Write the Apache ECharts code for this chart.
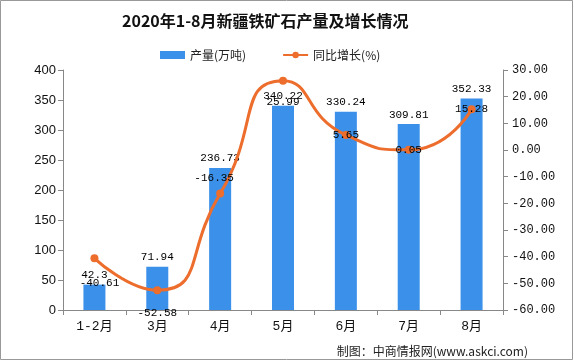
<!DOCTYPE html>
<html><head><meta charset="utf-8">
<script src="https://cdn.jsdelivr.net/npm/echarts@6/dist/echarts.min.js"></script>
<style>html,body{margin:0;padding:0;background:#fff}#c{width:574px;height:361px}</style>
</head><body><div id="c"></div>
<script>
const titleText = '2020年1-8月新疆铁矿石产量及增长情况';
const categories = ['1-2月','3月','4月','5月','6月','7月','8月'];
const output = [42.3, 71.94, 236.73, 340.22, 330.24, 309.81, 352.33];
const growth = [-40.61, -52.58, -16.35, 25.99, 5.65, 0.05, 15.28];
const leftTicks = [0, 400, 50];
const rightTicks = [-60, 30, 10];
const sourceText = '制图：中商情报网(www.askci.com)';

const lineLabelOffsets = [[5,25],[0,23],[-6,-16],[0,21],[0,0],[0,0],[0,0]];
const labelFont = {fontFamily:'Liberation Mono', fontSize:11, color:'#000'};

const chart = echarts.init(document.getElementById('c'));
chart.setOption({
  animation:false,
  title:{text:titleText,left:117,top:8,textStyle:{fontFamily:'Noto Sans CJK SC',fontSize:16,fontWeight:'bold',color:'#111'}},
  legend:{top:44,left:155,itemWidth:25,itemHeight:8,itemGap:36,
    textStyle:{fontFamily:'Noto Sans CJK SC',fontSize:12,color:'#222'},
    data:[{name:'产量(万吨)',icon:'rect'},{name:'同比增长(%)'}]},
  grid:{left:63,right:71,top:70,bottom:51},
  xAxis:{type:'category',data:categories,
    axisLine:{lineStyle:{color:'#888'}},
    axisTick:{show:true,length:5,lineStyle:{color:'#888'}},
    axisLabel:{fontFamily:'Liberation Mono, Noto Sans CJK SC',fontSize:13,color:'#111',margin:10}},
  yAxis:[
    {type:'value',min:leftTicks[0],max:leftTicks[1],interval:leftTicks[2],
     axisLine:{show:true,lineStyle:{color:'#888'}},axisTick:{show:true,length:5,lineStyle:{color:'#888'}},
     splitLine:{show:false},axisLabel:{fontFamily:'Liberation Sans',fontSize:13,color:'#111',margin:7}},
    {type:'value',min:rightTicks[0],max:rightTicks[1],interval:rightTicks[2],
     axisLine:{show:true,lineStyle:{color:'#888'}},axisTick:{show:true,length:5,lineStyle:{color:'#888'}},
     splitLine:{show:false},axisLabel:{fontFamily:'Liberation Mono',fontSize:12,color:'#111',margin:9,
       formatter:v=>v.toFixed(2)}}
  ],
  series:[
    {name:'产量(万吨)',type:'bar',data:output,barWidth:'35%',itemStyle:{color:'#3b90ea'},
     label:{show:true,position:'top',distance:4,...labelFont}},
    {name:'同比增长(%)',type:'line',yAxisIndex:1,smooth:0.6,symbol:'circle',symbolSize:8,
     lineStyle:{color:'#ED6D2D',width:3},itemStyle:{color:'#ED6D2D'},
     data:growth.map((v,i)=>({value:v,label:{show:true,position:'inside',offset:lineLabelOffsets[i],...labelFont}}))}
  ],
  graphic:[
    {type:'rect',shape:{x:0.5,y:0.5,width:572,height:359},style:{fill:null,stroke:'#999',lineWidth:1},silent:true},
    {type:'text',right:46,bottom:4,style:{text:sourceText,fontFamily:'Noto Sans CJK SC',fontSize:12,fill:'#222'}}
  ]
});
</script></body></html>
